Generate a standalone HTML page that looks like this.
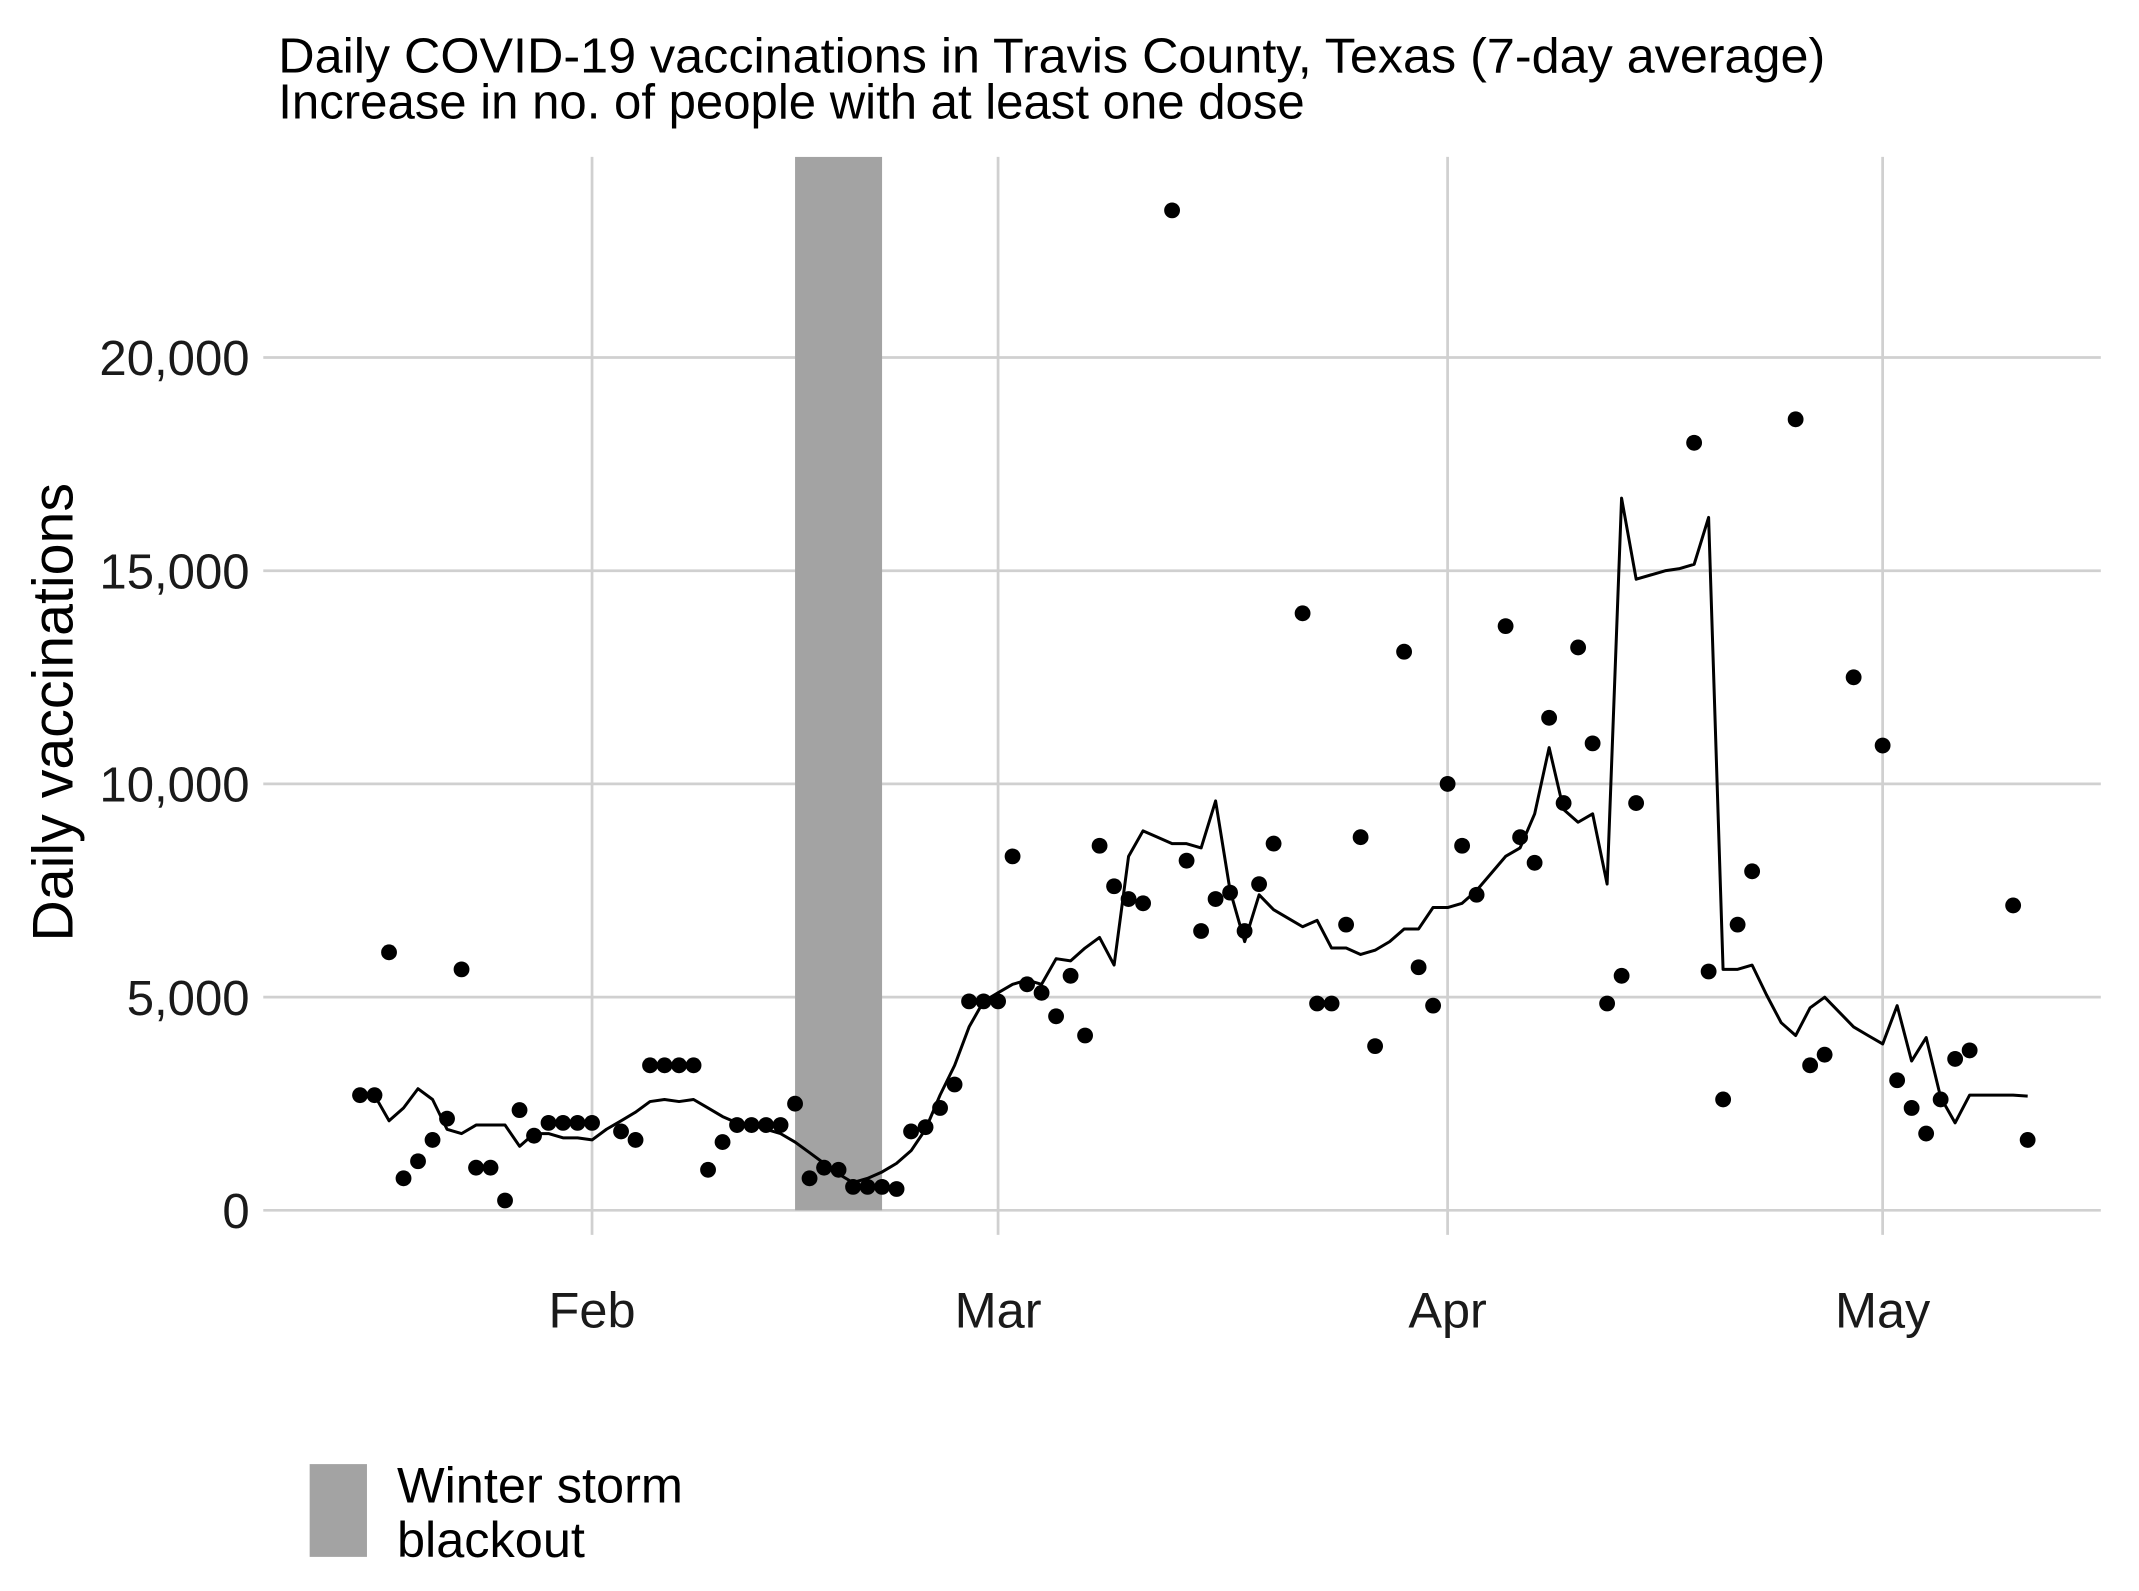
<!DOCTYPE html>
<html><head><meta charset="utf-8"><style>
html,body{margin:0;padding:0;background:#fff;}
svg{display:block;font-family:"Liberation Sans",sans-serif;}
</style></head><body>
<svg id="chart" width="2139" height="1591" viewBox="0 0 1568 1166" preserveAspectRatio="none" xmlns="http://www.w3.org/2000/svg">
<rect width="1568" height="1166" fill="#fff"/>
<text x="204" y="53" font-size="36" fill="#000" textLength="1134" lengthAdjust="spacingAndGlyphs">Daily COVID-19 vaccinations in Travis County, Texas (7-day average)</text>
<text x="204" y="87" font-size="36" fill="#000">Increase in no. of people with at least one dose</text>
<g id="grid"></g>
<g id="band"></g>
<g id="marks"></g>
<g id="axes"></g>
<text transform="translate(53,522) rotate(-90)" text-anchor="middle" font-size="42" fill="#000">Daily vaccinations</text>
<rect x="227" y="1073" width="42" height="68" fill="#a3a3a3"/>
<text x="291" y="1101" font-size="37" fill="#000"><tspan x="291">Winter storm</tspan><tspan x="291" dy="40">blackout</tspan></text>
</svg>
<script>
const startDay = 15; // Jan 16 as day-of-year index (Jan 1 = 0)
const yTicks = [0, 5000, 10000, 15000, 20000];
const yTickLabels = ["0", "5,000", "10,000", "15,000", "20,000"];
const monthDays = [31, 59, 90, 120];
const monthLabels = ["Feb", "Mar", "Apr", "May"];
const blackoutDays = [45, 51];
const dailyValues = [2700,2700,6050,750,1150,1650,2150,5650,1000,1000,230,2350,1750,2050,2050,2050,2050,null,1850,1650,3400,3400,3400,3400,950,1600,2000,2000,2000,2000,2500,750,1000,950,550,550,550,500,1850,1950,2400,2950,4900,4900,4900,8300,5300,5100,4550,5500,4100,8550,7600,7300,7200,null,23450,8200,6550,7300,7450,6550,7650,8600,null,14000,4850,4850,6700,8750,3850,null,13100,5700,4800,10000,8550,7400,null,13700,8750,8150,11550,9550,13200,10950,4850,5500,9550,null,null,null,18000,5600,2600,6700,7950,null,null,18550,3400,3650,null,12500,null,10900,3050,2400,1800,2600,3550,3750,null,null,7150,1650];
const avgValues = [2700,2700,2100,2400,2850,2600,1900,1800,2000,2000,2000,1500,1800,1800,1700,1700,1650,1900,2100,2300,2550,2600,2550,2600,2400,2200,2050,2000,1900,1800,1600,1350,1100,850,650,750,900,1100,1400,1900,2700,3400,4300,4900,5100,5300,5400,5300,5900,5850,6150,6400,5750,8300,8900,8750,8600,8600,8500,9600,7500,6300,7400,7050,6850,6650,6800,6150,6150,6000,6100,6300,6600,6600,7100,7100,7200,7500,7900,8300,8500,9300,10850,9400,9100,9300,7650,16700,14800,14900,15000,15050,15150,16250,5650,5650,5750,5050,4400,4100,4750,5000,4650,4300,4100,3900,4800,3500,4050,2650,2050,2700,2700,2700,2700,2680];

const NS = "http://www.w3.org/2000/svg";
const xScale = d => 434 + (d - 31) * 10.63;
const yScale = v => 887 - v * (156.25 / 5000);
function mk(tag, attrs, parent) { const e = document.createElementNS(NS, tag); for (const k in attrs) e.setAttribute(k, attrs[k]); parent.appendChild(e); return e; }
const grid = document.getElementById('grid'), band = document.getElementById('band'), marks = document.getElementById('marks'), axes = document.getElementById('axes');

yTicks.forEach((t, i) => {
  const l = mk('line', {x1: 193, x2: 1540, y1: yScale(t), y2: yScale(t), stroke: '#d0d0d0', 'stroke-width': 2}, grid);
  
  
  const tx = mk('text', {x: 183, y: yScale(t) + 13, 'text-anchor': 'end', 'font-size': 36, fill: '#1a1a1a'}, axes);
  tx.textContent = yTickLabels[i];
  
  
});
monthDays.forEach((d, i) => {
  const l = mk('line', {x1: xScale(d), x2: xScale(d), y1: 115, y2: 905, stroke: '#d0d0d0', 'stroke-width': 2}, grid);
  
  
  const tx = mk('text', {x: xScale(d), y: 973, 'text-anchor': 'middle', 'font-size': 37, fill: '#1a1a1a'}, axes);
  tx.textContent = monthLabels[i];
  
  
});
const br = mk('rect', {x: xScale(blackoutDays[0]), y: 115, width: xScale(blackoutDays[1]) - xScale(blackoutDays[0]), height: 887 - 115, fill: '#a3a3a3'}, band);



const pts = avgValues.map((v, i) => xScale(startDay + i).toFixed(1) + ',' + yScale(v).toFixed(1)).join(' ');
const pl = mk('polyline', {points: pts, fill: 'none', stroke: '#000', 'stroke-width': 2.2, 'stroke-linejoin': 'round'}, marks);


dailyValues.forEach((v, i) => {
  if (v === null) return;
  const c = mk('circle', {cx: xScale(startDay + i), cy: yScale(v), r: 5.8, fill: '#000'}, marks);
  
  
});
</script>
</body></html>
